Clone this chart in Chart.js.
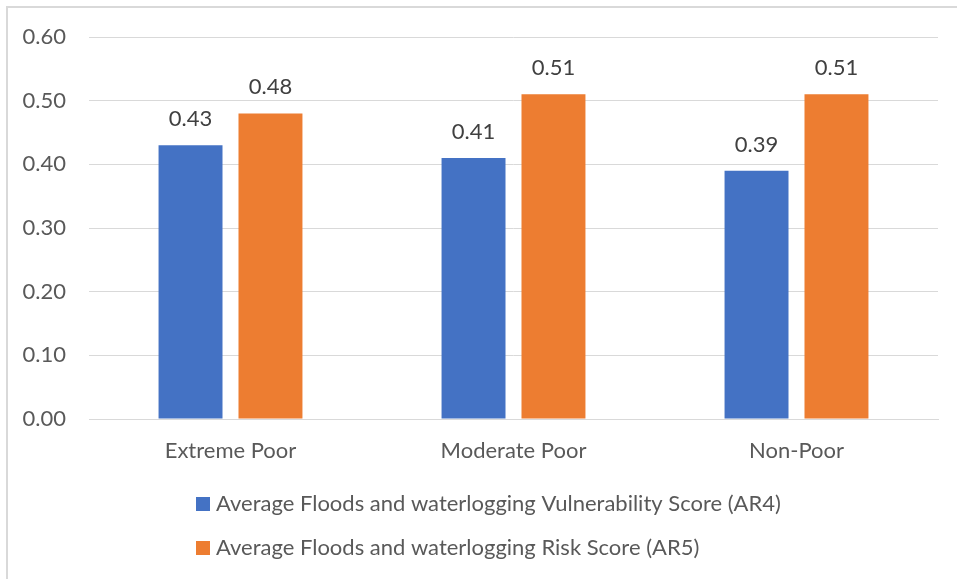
<!DOCTYPE html>
<html>
<head>
<meta charset="utf-8">
<script src="https://cdn.jsdelivr.net/npm/chart.js@4"></script>
<style>
  html, body { margin: 0; padding: 0; background: #ffffff; }
  #wrap { position: relative; width: 957px; height: 579px; }
</style>
</head>
<body>
<div id="wrap"><canvas id="chart" width="957" height="579"></canvas></div>
<script>
// Poverty groups and their average flood / waterlogging scores
const categories = ['Extreme Poor', 'Moderate Poor', 'Non-Poor'];
const vulnerabilityAR4 = [0.43, 0.41, 0.39];
const riskAR5 = [0.48, 0.51, 0.51];
const seriesNames = [
  'Average Floods and waterlogging Vulnerability Score (AR4)',
  'Average Floods and waterlogging Risk Score (AR5)'
];
const yTicks = [0, 0.1, 0.2, 0.3, 0.4, 0.5, 0.6];

const FONT = 'Lato, "Open Sans", sans-serif';
const SIZE = 22;
const TEXT = '#595959';

// Outer frame: only the left and top edges are visible
const framePlugin = {
  id: 'frame',
  beforeDraw(chart) {
    const ctx = chart.ctx;
    ctx.save();
    ctx.fillStyle = '#ffffff';
    ctx.fillRect(0, 0, chart.width, chart.height);
    ctx.strokeStyle = '#d9d9d9';
    ctx.lineWidth = 2;
    ctx.beginPath();
    ctx.moveTo(7, chart.height);
    ctx.lineTo(7, 7);
    ctx.lineTo(chart.width, 7);
    ctx.stroke();
    ctx.restore();
  }
};

// Value labels above each bar
const valueLabels = {
  id: 'valueLabels',
  afterDatasetsDraw(chart) {
    const ctx = chart.ctx;
    ctx.save();
    ctx.font = SIZE + 'px ' + FONT;
    ctx.fillStyle = '#404040';
    ctx.textAlign = 'center';
    ctx.textBaseline = 'middle';
    chart.data.datasets.forEach((ds, i) => {
      chart.getDatasetMeta(i).data.forEach((bar, j) => {
        ctx.fillText(ds.data[j].toFixed(2), bar.x, bar.y - 26);
      });
    });
    ctx.restore();
  }
};

// Legend stacked in two rows, left-aligned at a common x
const stackedLegend = {
  id: 'stackedLegend',
  afterDraw(chart) {
    const ctx = chart.ctx;
    ctx.save();
    ctx.font = SIZE + 'px ' + FONT;
    ctx.textBaseline = 'middle';
    ctx.textAlign = 'left';
    const x0 = 196, rows = [504, 548];
    chart.data.datasets.forEach((ds, i) => {
      const y = rows[i];
      ctx.fillStyle = ds.backgroundColor;
      ctx.fillRect(x0, y - 7, 14, 14);
      ctx.fillStyle = TEXT;
      ctx.fillText(ds.label, x0 + 20, y);
    });
    ctx.restore();
  }
};

new Chart(document.getElementById('chart'), {
  type: 'bar',
  data: {
    labels: categories,
    datasets: [
      { label: seriesNames[0], data: vulnerabilityAR4, backgroundColor: '#4472C4' },
      { label: seriesNames[1], data: riskAR5, backgroundColor: '#ED7D31' }
    ]
  },
  options: {
    responsive: false,
    animation: false,
    events: [],
    categoryPercentage: 0.565,
    barPercentage: 0.8,
    layout: { padding: { left: 0, right: 19, top: 37, bottom: 0 } },
    plugins: {
      legend: { display: false },
      tooltip: { enabled: false }
    },
    scales: {
      x: {
        grid: { display: false, drawTicks: false },
        border: { display: true, color: '#d9d9d9', width: 1 },
        ticks: { color: TEXT, font: { family: FONT, size: SIZE }, padding: 19 },
        afterFit(scale) { scale.height = 160; }
      },
      y: {
        min: 0,
        max: 0.6,
        afterBuildTicks(scale) { scale.ticks = yTicks.map(v => ({ value: v })); },
        grid: { color: '#d9d9d9', lineWidth: 1, drawTicks: false },
        border: { display: false },
        ticks: {
          color: TEXT,
          font: { family: FONT, size: SIZE },
          padding: 23,
          callback: v => Number(v).toFixed(2)
        },
        afterFit(scale) { scale.width = 89; }
      }
    }
  },
  plugins: [framePlugin, valueLabels, stackedLegend]
});
</script>
</body>
</html>
